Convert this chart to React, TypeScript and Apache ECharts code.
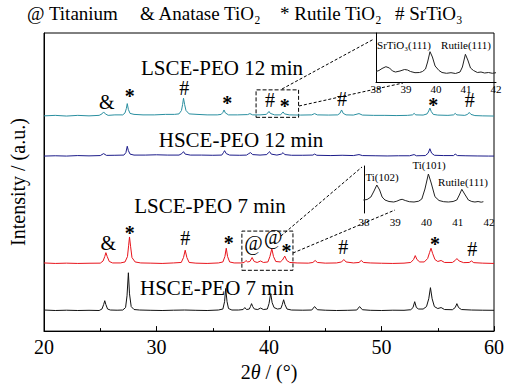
import React, { useEffect, useRef } from "react";
import * as echarts from "echarts";

const FONT = "Liberation Serif, Times New Roman, Times, serif";

// main x axis
const xMin = 20;
const xMax = 60;
const xInterval = 10;

// HSCE-PEO 7 min (black)
const hsce7: number[][] = [
  [20, 21.5], [21, 21], [22, 21.3], [23, 21], [24, 21.2], [24.9, 21], [25.15, 22.5], [25.3, 27], [25.4, 31], [25.5, 27], [25.65, 22.5], [25.9, 21.5],
  [26.5, 21.3], [27.0, 21.5], [27.25, 24], [27.38, 36], [27.5, 59.5], [27.6, 38], [27.75, 25], [28.0, 22], [28.5, 21.5], [29.5, 21.2], [30.5, 21],
  [31.5, 21.3], [32.5, 21.5], [33.5, 21.2], [34.5, 21], [35.5, 21.5], [35.9, 22.5], [36.05, 30], [36.15, 43.5], [36.27, 30], [36.4, 23], [36.7, 21.5],
  [37.3, 21.5], [37.7, 22], [37.85, 24], [38.0, 22], [38.25, 22.5], [38.35, 25], [38.45, 28], [38.55, 25], [38.7, 22.5], [39.0, 22], [39.25, 23.5],
  [39.5, 22], [39.85, 22.5], [40.0, 28], [40.15, 38.3], [40.28, 29], [40.45, 24], [40.75, 22.5], [41.05, 23], [41.18, 27], [41.3, 32], [41.42, 27],
  [41.6, 22.5], [42.0, 21.5], [43.0, 21.3], [43.8, 21.5], [44.05, 25], [44.3, 21.8], [45, 21.3], [46, 21], [47, 21.2], [47.8, 21.5], [48.05, 25],
  [48.3, 21.8], [49, 21.2], [50, 21], [51, 21.3], [52, 21.2], [52.6, 21.8], [52.8, 24], [52.95, 30], [53.1, 24], [53.3, 22.5], [53.7, 22.5],
  [54.0, 25], [54.2, 33], [54.35, 44.3], [54.5, 33], [54.7, 25], [55.0, 23], [55.3, 24], [55.6, 22], [56.3, 21.8], [56.55, 24], [56.7, 28],
  [56.85, 24], [57.1, 22], [58, 21.5], [59, 21.3], [60, 21.2],
];

// LSCE-PEO 7 min (red)
const lsce7: number[][] = [
  [20, 69.5], [21, 69], [22, 69.3], [23, 69], [24, 69.2], [25.0, 69.3], [25.25, 71.5], [25.4, 76], [25.5, 80], [25.62, 76], [25.8, 71], [26.1, 69.5],
  [26.8, 69.5], [27.2, 70.5], [27.42, 76], [27.52, 87], [27.6, 96], [27.7, 86], [27.82, 75], [28.1, 70.5], [28.6, 69.5], [29.5, 69.3], [30.5, 69],
  [31.5, 69.5], [32.2, 70], [32.4, 75], [32.55, 82.5], [32.7, 75], [32.9, 70], [33.5, 69.3], [34.5, 69], [35.5, 69.5], [35.9, 70.5], [36.08, 76],
  [36.2, 84.5], [36.32, 76], [36.5, 70.5], [36.9, 69.5], [37.5, 69.5], [37.8, 70], [37.95, 72], [38.1, 70.5], [38.3, 71], [38.5, 75], [38.68, 71],
  [38.95, 70], [39.25, 71.5], [39.5, 70], [39.9, 70.5], [40.08, 76], [40.25, 84], [40.4, 76], [40.6, 71], [41.0, 70.5], [41.2, 72.5], [41.4, 76.5],
  [41.58, 72], [41.85, 70], [42.5, 69.5], [43.5, 69.3], [43.9, 70], [44.1, 72], [44.3, 70], [45, 69.3], [46, 69.5], [46.45, 70.5], [46.65, 73],
  [46.85, 70.5], [47.5, 69.5], [48.0, 70], [48.2, 72], [48.4, 70], [49, 69.5], [50, 69.2], [51, 69], [52, 69.3], [52.6, 70], [52.85, 73], [53.0, 77],
  [53.15, 73], [53.4, 70.5], [53.8, 70.5], [54.1, 74], [54.27, 80], [54.4, 84.5], [54.55, 79], [54.75, 73], [55.0, 71], [55.3, 72], [55.6, 70],
  [56.3, 70], [56.55, 72], [56.7, 74], [56.9, 71.5], [57.3, 69.8], [57.8, 70], [58.0, 71.5], [58.2, 69.8], [59, 69.3], [60, 69],
];

// HSCE-PEO 12 min (navy)
const hsce12: number[][] = [
  [20, 178.5], [21, 178.8], [22, 178.5], [23, 179], [24, 178.7], [25.0, 179], [25.3, 181], [25.55, 179.2], [26.3, 179.3], [27.1, 179.5], [27.28, 182],
  [27.4, 188.5], [27.5, 184], [27.65, 180.5], [28.0, 179.5], [29, 179.5], [30, 179.8], [31, 179.5], [32.0, 179.5], [32.25, 181], [32.4, 183],
  [32.55, 180.5], [33, 179.5], [34, 179.5], [35, 179.3], [35.8, 179.5], [35.95, 182], [36.05, 184], [36.2, 181], [36.5, 179.5], [37.4, 179.3],
  [38.0, 179.5], [38.2, 181], [38.35, 182], [38.55, 180], [39.2, 179.5], [39.8, 180], [39.95, 182], [40.05, 183], [40.2, 180.5], [40.7, 179.5],
  [41.1, 180.5], [41.25, 182], [41.4, 180], [42, 179.3], [43, 179.3], [43.9, 179.5], [44.05, 180.5], [44.25, 179.3], [45.5, 179], [46.5, 179.3],
  [47.5, 179], [48.0, 180], [48.3, 179], [49.5, 178.8], [50.5, 178.6], [51.5, 178.8], [52.5, 178.8], [52.9, 180], [53.1, 178.8], [53.9, 179],
  [54.15, 181.5], [54.3, 186], [54.45, 181.5], [54.7, 179.3], [55.5, 179], [56.4, 179], [56.55, 180.5], [56.75, 179], [57.5, 178.8], [58.5, 178.6],
  [59.5, 178.5], [60, 178.5],
];

// LSCE-PEO 12 min (teal)
const lsce12: number[][] = [
  [20, 219.5], [21, 220], [22, 219.3], [23, 220], [24, 219.5], [24.9, 220], [25.15, 221.5], [25.3, 223.5], [25.45, 221.5], [25.7, 220], [26.3, 220.5],
  [27.0, 220.5], [27.2, 222.5], [27.32, 227], [27.4, 232], [27.5, 226], [27.65, 222], [28.0, 221], [28.8, 220.5], [29.8, 220.5], [30.8, 221],
  [31.6, 221], [32.0, 221.5], [32.22, 225], [32.32, 231], [32.4, 237.5], [32.5, 231], [32.62, 225], [32.9, 221.5], [33.6, 221], [34.5, 220.5],
  [35.4, 220.5], [35.75, 221], [35.9, 223], [36.0, 225.5], [36.12, 222.5], [36.4, 220.5], [37.2, 220.5], [38.1, 220.8], [38.3, 221.8], [38.55, 220.5],
  [39.2, 220.5], [39.75, 221], [39.9, 222.5], [40.0, 224], [40.12, 222], [40.5, 220.5], [41.0, 220.5], [41.15, 222], [41.25, 223.5], [41.38, 221.5],
  [41.8, 220.5], [42.8, 220.3], [43.8, 220.5], [44.05, 221.8], [44.3, 220.5], [45.3, 220.3], [46.1, 220.5], [46.3, 222], [46.45, 225.5], [46.6, 222],
  [46.85, 220.5], [47.5, 220.3], [48.0, 221.8], [48.3, 220.3], [49.3, 220], [50.3, 220], [51.3, 219.8], [52.3, 220], [52.75, 220.5], [52.9, 222],
  [53.05, 220.5], [53.7, 220.3], [54.05, 221.5], [54.2, 224.5], [54.3, 227.5], [54.42, 224], [54.6, 221], [55.0, 220.3], [55.9, 220], [56.4, 220.5],
  [56.55, 222], [56.7, 220.5], [57.4, 220], [57.65, 221], [57.8, 223], [57.95, 221], [58.3, 219.8], [59, 219.5], [60, 219.3],
];

// insets (38-42)
const insetTop: number[][] = [
  [38.0, 10.5], [38.1, 11.5], [38.2, 13.5], [38.33, 15.3], [38.45, 14], [38.55, 11], [38.65, 10], [38.8, 11], [38.95, 12.5], [39.05, 12], [39.15, 10.5],
  [39.3, 9.3], [39.45, 9.5], [39.55, 10.5], [39.65, 13], [39.72, 20], [39.8, 30.3], [39.88, 25], [39.97, 16], [40.1, 11.5], [40.2, 9.5], [40.35, 8.7],
  [40.5, 9.3], [40.65, 8.5], [40.8, 10], [40.88, 15], [40.98, 27.7], [41.06, 22], [41.15, 14], [41.25, 11.5], [41.38, 9.5], [41.5, 10], [41.62, 9],
  [41.75, 9.5], [41.88, 8.7], [42.0, 9.3],
];
const insetBottom: number[][] = [
  [37.98, 13], [38.1, 13.5], [38.22, 16], [38.32, 22], [38.41, 28], [38.5, 23], [38.58, 16], [38.67, 13], [38.8, 11.5], [38.95, 11], [39.05, 11.8],
  [39.15, 13.2], [39.22, 13.7], [39.32, 12.5], [39.45, 11.3], [39.6, 11], [39.75, 11.8], [39.85, 14], [39.95, 24], [40.06, 39], [40.15, 30],
  [40.27, 16.3], [40.4, 12.5], [40.55, 11.3], [40.7, 11], [40.85, 11.5], [40.97, 13], [41.05, 18], [41.13, 23.7], [41.22, 19], [41.34, 13],
  [41.45, 11.5], [41.55, 11], [41.65, 11.5], [41.75, 10.8], [41.82, 11.3],
];

// peak symbols [text, 2theta, y]
const tealMarks: [string, number, number][] = [
  ["&", 25.57, 233.7], ["*", 27.62, 239.7], ["#", 32.46, 247.7], ["*", 36.28, 233], ["#", 40.09, 235.3],
  ["*", 41.41, 229.7], ["#", 46.48, 237], ["*", 54.61, 230.3], ["#", 57.84, 235.3],
];
const redMarks: [string, number, number][] = [
  ["&", 25.72, 89.7], ["*", 27.62, 99.7], ["#", 32.55, 95.3], ["*", 36.42, 90.3], ["@", 38.62, 90.3],
  ["@", 40.38, 96.3], ["*", 41.56, 81.3], ["#", 46.6, 85.3], ["*", 54.76, 89], ["#", 58.06, 83.7],
];

const sampleNames = ["LSCE-PEO 12 min", "HSCE-PEO 12 min", "LSCE-PEO 7 min", "HSCE-PEO 7 min"];
const legendItems = ["@ Titanium", "& Anatase TiO\u2082", "* Rutile TiO\u2082", "# SrTiO\u2083"];

function markData(marks: [string, number, number][]) {
  return marks.map(([t, x, y]) => ({
    coord: [x, y],
    symbol: "circle",
    symbolSize: 1,
    itemStyle: { color: "rgba(0,0,0,0)" },
    label: {
      show: true,
      position: "inside",
      formatter: t,
      color: "#000",
      fontSize: 20,
      fontFamily: FONT,
      fontWeight: t === "*" ? "bold" : "normal",
    },
  }));
}

function txt(text: string, x: number, y: number, size: number, align = "center") {
  return {
    type: "text",
    silent: true,
    style: {
      text,
      x,
      y,
      fill: "#000",
      fontSize: size,
      fontFamily: FONT,
      align,
      verticalAlign: "middle",
    },
  };
}

function dline(x1: number, y1: number, x2: number, y2: number) {
  return {
    type: "line",
    silent: true,
    shape: { x1, y1, x2, y2 },
    style: { stroke: "#000", lineWidth: 1, lineDash: [3, 2] },
  };
}

export default function App() {
  const ref = useRef<HTMLDivElement>(null);
  useEffect(() => {
    if (!ref.current) return;
    const chart = echarts.init(ref.current, undefined, { renderer: "svg" });
    const lineBase = {
      type: "line",
      showSymbol: false,
      symbol: "none",
      silent: true,
      lineStyle: { width: 1 },
    };
    const axisTextBase = { color: "#000", fontFamily: FONT };
    chart.setOption({
      animation: false,
      backgroundColor: "#fff",
      grid: [
        { left: 42, right: 11, top: 33, bottom: 50, show: true, borderColor: "#000", borderWidth: 1 },
        { left: 376, width: 120, top: 33, height: 49 },
        { left: 364, width: 125, top: 166, height: 47 },
      ],
      xAxis: [
        {
          gridIndex: 0,
          type: "value",
          min: xMin,
          max: xMax,
          interval: xInterval,
          axisLine: { show: true, onZero: false, lineStyle: { color: "#000", width: 1 } },
          axisTick: { show: true, inside: true, length: 5, lineStyle: { color: "#000" } },
          minorTick: { show: true, splitNumber: 2, length: 3, lineStyle: { color: "#000" } },
          splitLine: { show: false },
          axisLabel: { ...axisTextBase, fontSize: 20, margin: 6 },
          name: "{a|2}{b|\u03b8}{a| / (\u00b0)}",
          nameLocation: "middle",
          nameGap: 30,
          nameTextStyle: {
            ...axisTextBase,
            fontSize: 20,
            rich: {
              a: { fontSize: 20, fontFamily: FONT, color: "#000" },
              b: { fontSize: 20, fontFamily: FONT, color: "#000", fontStyle: "italic" },
            },
          },
        },
        {
          gridIndex: 1,
          type: "value",
          min: 38,
          max: 42,
          interval: 1,
          axisLine: { show: true, onZero: false, lineStyle: { color: "#000", width: 1 } },
          axisTick: { show: false },
          splitLine: { show: false },
          axisLabel: { ...axisTextBase, fontSize: 11, margin: 1 },
        },
        {
          gridIndex: 2,
          type: "value",
          min: 38,
          max: 42,
          interval: 1,
          axisLine: { show: false, onZero: false },
          axisTick: { show: false },
          splitLine: { show: false },
          axisLabel: { ...axisTextBase, fontSize: 11, margin: 3 },
        },
      ],
      yAxis: [
        {
          gridIndex: 0,
          type: "value",
          min: 0,
          max: 304,
          axisLine: { show: true, lineStyle: { color: "#000", width: 1 } },
          axisTick: { show: false },
          axisLabel: { show: false },
          splitLine: { show: false },
          name: "Intensity / (a.u.)",
          nameLocation: "middle",
          nameRotate: 90,
          nameGap: 16,
          nameTextStyle: { ...axisTextBase, fontSize: 20 },
        },
        {
          gridIndex: 1,
          type: "value",
          min: 0,
          max: 49,
          axisLine: { show: true, lineStyle: { color: "#000", width: 1 } },
          axisTick: { show: false },
          axisLabel: { show: false },
          splitLine: { show: false },
        },
        {
          gridIndex: 2,
          type: "value",
          min: 0,
          max: 47,
          axisLine: { show: true, lineStyle: { color: "#000", width: 1 } },
          axisTick: { show: false },
          axisLabel: { show: false },
          splitLine: { show: false },
        },
      ],
      series: [
        { ...lineBase, name: sampleNames[3], xAxisIndex: 0, yAxisIndex: 0, data: hsce7, lineStyle: { width: 1, color: "#111111" } },
        {
          ...lineBase,
          name: sampleNames[2],
          xAxisIndex: 0,
          yAxisIndex: 0,
          data: lsce7,
          lineStyle: { width: 1, color: "#e8141c" },
          markPoint: { silent: true, data: markData(redMarks) },
          markArea: {
            silent: true,
            itemStyle: { color: "rgba(0,0,0,0)", borderColor: "#000", borderWidth: 1, borderType: "dashed" },
            data: [[{ xAxis: 37.59, yAxis: 62 }, { xAxis: 42.13, yAxis: 102 }]],
          },
        },
        { ...lineBase, name: sampleNames[1], xAxisIndex: 0, yAxisIndex: 0, data: hsce12, lineStyle: { width: 1, color: "#1c1c8a" } },
        {
          ...lineBase,
          name: sampleNames[0],
          xAxisIndex: 0,
          yAxisIndex: 0,
          data: lsce12,
          lineStyle: { width: 1, color: "#2a8fa0" },
          markPoint: { silent: true, data: markData(tealMarks) },
          markArea: {
            silent: true,
            itemStyle: { color: "rgba(0,0,0,0)", borderColor: "#000", borderWidth: 1, borderType: "dashed" },
            data: [[{ xAxis: 38.85, yAxis: 218 }, { xAxis: 42.63, yAxis: 246 }]],
          },
        },
        { ...lineBase, name: "inset 12", xAxisIndex: 1, yAxisIndex: 1, data: insetTop, lineStyle: { width: 1, color: "#222" } },
        { ...lineBase, name: "inset 7", xAxisIndex: 2, yAxisIndex: 2, data: insetBottom, lineStyle: { width: 1, color: "#222" } },
      ],
      graphic: [
        txt(legendItems[0], 27, 13, 19, "left"),
        txt(legendItems[1], 140, 13, 19, "left"),
        txt(legendItems[2], 280, 13, 19, "left"),
        txt(legendItems[3], 395, 13, 19, "left"),
        txt(sampleNames[0], 222, 68, 21),
        txt(sampleNames[1], 241, 140, 21),
        txt(sampleNames[2], 210, 206, 21),
        txt(sampleNames[3], 217, 288, 21),
        txt("SrTiO\u2083(111)", 404, 45, 11),
        txt("Rutile(111)", 466, 45, 11),
        txt("Ti(102)", 382, 177, 11),
        txt("Ti(101)", 429, 165, 11),
        txt("Rutile(111)", 463, 182, 11),
        dline(282, 89, 374, 39),
        dline(299, 106, 403, 83),
        dline(281, 236, 362, 167),
        dline(293, 253, 395, 210),
      ],
    });
    return () => chart.dispose();
  }, []);
  return (
    <div
      ref={ref}
      style={{ position: "fixed", left: 0, top: 0, width: 507, height: 387, background: "#fff" }}
    />
  );
}
